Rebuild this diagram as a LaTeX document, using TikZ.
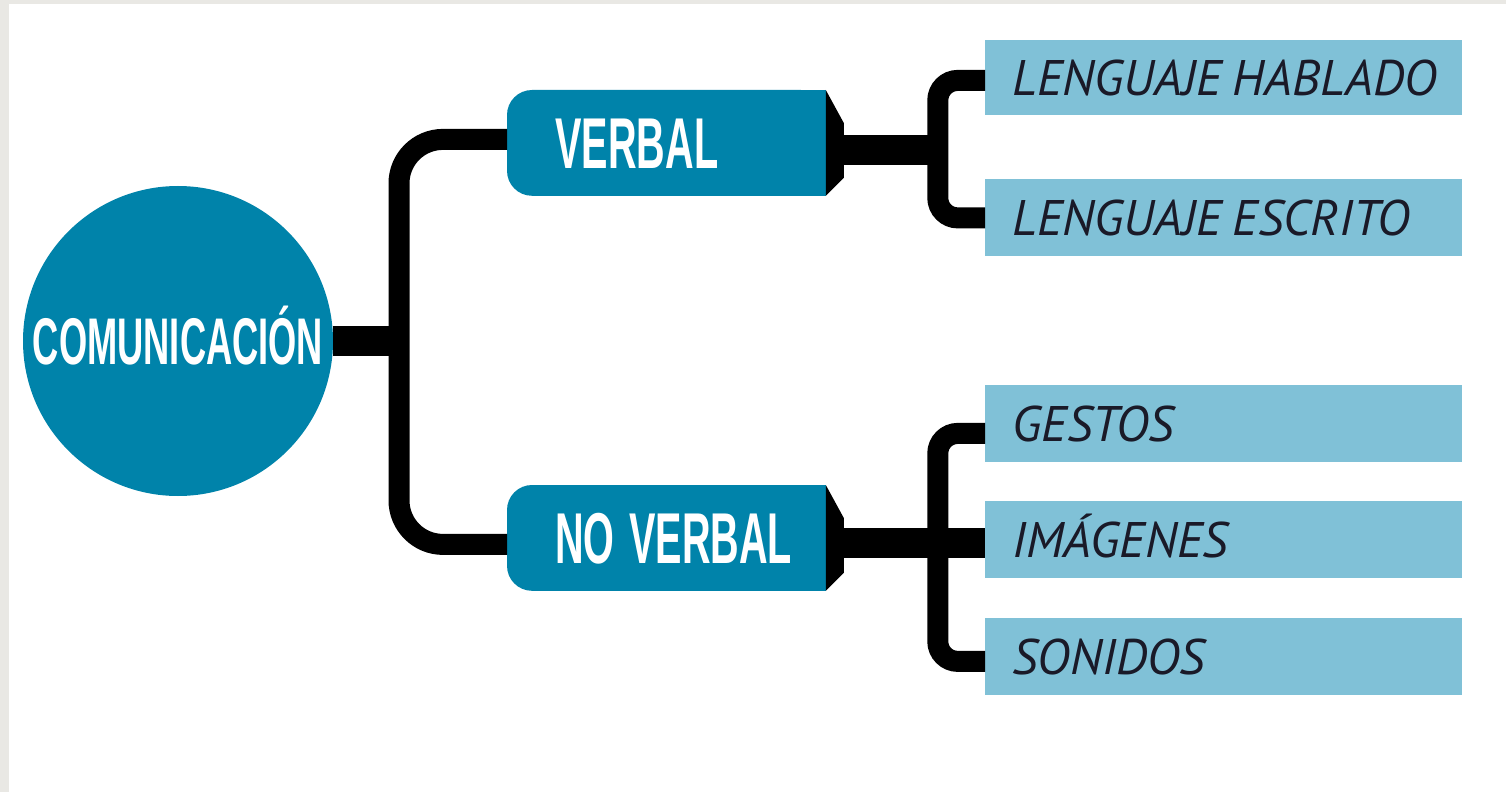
\documentclass[tikz,border=0pt]{standalone}
\usepackage{fontspec}
\usetikzlibrary{backgrounds,calc}
\newfontfamily\condfont[FakeStretch=0.55]{Liberation Sans}
\newfontfamily\leaffont{PT Sans}
\definecolor{bluedark}{RGB}{0,131,170}
\definecolor{bluelight}{RGB}{128,193,215}
\definecolor{pagegray}{RGB}{233,232,228}
\definecolor{leaftext}{RGB}{26,26,40}
\newcommand{\midstart}{\spaceskip=0.2em\relax\hspace*{24pt}}
\newcommand{\leafstart}{\spaceskip=0.22em\relax\hspace*{13.5pt}}
\begin{document}
\begin{tikzpicture}[x=0.5pt,y=-0.5pt,
  midbox/.style={minimum width=159pt, minimum height=52.5pt, inner xsep=0pt, inner ysep=0pt,
    text width=159pt, align=left, text=white, anchor=north west,
    font=\condfont\bfseries\fontsize{36}{36}\selectfont, text height=26pt, text depth=0pt,
    execute at begin node=\midstart},
  leafbox/.style={fill=bluelight, minimum width=238.5pt, minimum height=38.5pt, inner xsep=0pt, inner ysep=0pt,
    text width=238.5pt, align=left, text=leaftext, anchor=north west,
    font=\leaffont\itshape\fontsize{25}{25}\selectfont, text height=17.5pt, text depth=0pt,
    execute at begin node=\leafstart},
  bar/.style={line width=15pt, draw=black},
  trunk/.style={line width=10.5pt, draw=black}
]
\useasboundingbox (0,0) rectangle (1506,792);
\begin{scope}[on background layer]
  \fill[pagegray] (0,0) rectangle (1506,792);
  \fill[white] (9,4) rectangle (1506,792);
\end{scope}

% nodes
\node[circle, fill=bluedark, minimum size=155pt, inner sep=0pt, text=white,
  font=\condfont\bfseries\fontsize{33}{33}\selectfont, text height=23.5pt, text depth=0pt]
  (com) at (178,341) {COMUNICACIÓN};
\node[midbox] (vb) at (507,90) {VERBAL};
\node[midbox] (nvb) at (507,485) {NO VERBAL};

\node[leafbox, minimum height=37.5pt] (l1) at (985,40) {LENGUAJE HABLADO};
\node[leafbox] (l2) at (985,179) {LENGUAJE ESCRITO};
\node[leafbox] (l3) at (985,385) {GESTOS};
\node[leafbox] (l4) at (985,501) {IMÁGENES};
\node[leafbox] (l5) at (985,618) {SONIDOS};

% mid box fills
\begin{scope}[on background layer]
  \foreach \b in {vb,nvb}{
    \fill[bluedark, rounded corners=12.5pt] (\b.north west) rectangle (\b.south east);
    \fill[bluedark] (\b.north) rectangle (\b.south east);
  }
\end{scope}

% tapered ends
\foreach \b in {vb,nvb}{
  \fill[black] (\b.north east) -- ($(\b.north east)+(18,33)$) -- ($(\b.south east)+(18,-18)$) -- (\b.south east) -- cycle;
}

% left trunk
\coordinate (tc) at (399,341);
\draw[bar] (com.east) -- (tc);
\draw[trunk, rounded corners=22pt] ([yshift=1.75pt]vb.west) -| (tc) |- ([yshift=-3.25pt]nvb.west);

% verbal branches
\coordinate (vtip) at ($(vb.north east)+(10,60)$);
\coordinate (vt) at ($(vtip)+(102,0)$);
\draw[bar] (vtip) -- (vt);
\draw[trunk, rounded corners=10pt] ([yshift=-1.25pt]l1.west) -| (vt) |- (l2.west);

% no verbal branches
\coordinate (nvtip) at ($(nvb.north east)+(10,58)$);
\coordinate (nvt) at ($(nvtip)+(102,0)$);
\draw[bar] (nvtip) -- (nvtip -| l4.west);
\draw[trunk, rounded corners=10pt] ([yshift=-4.75pt]l3.west) -| (nvt) |- ([yshift=-2.25pt]l5.west);
\end{tikzpicture}
\end{document}
